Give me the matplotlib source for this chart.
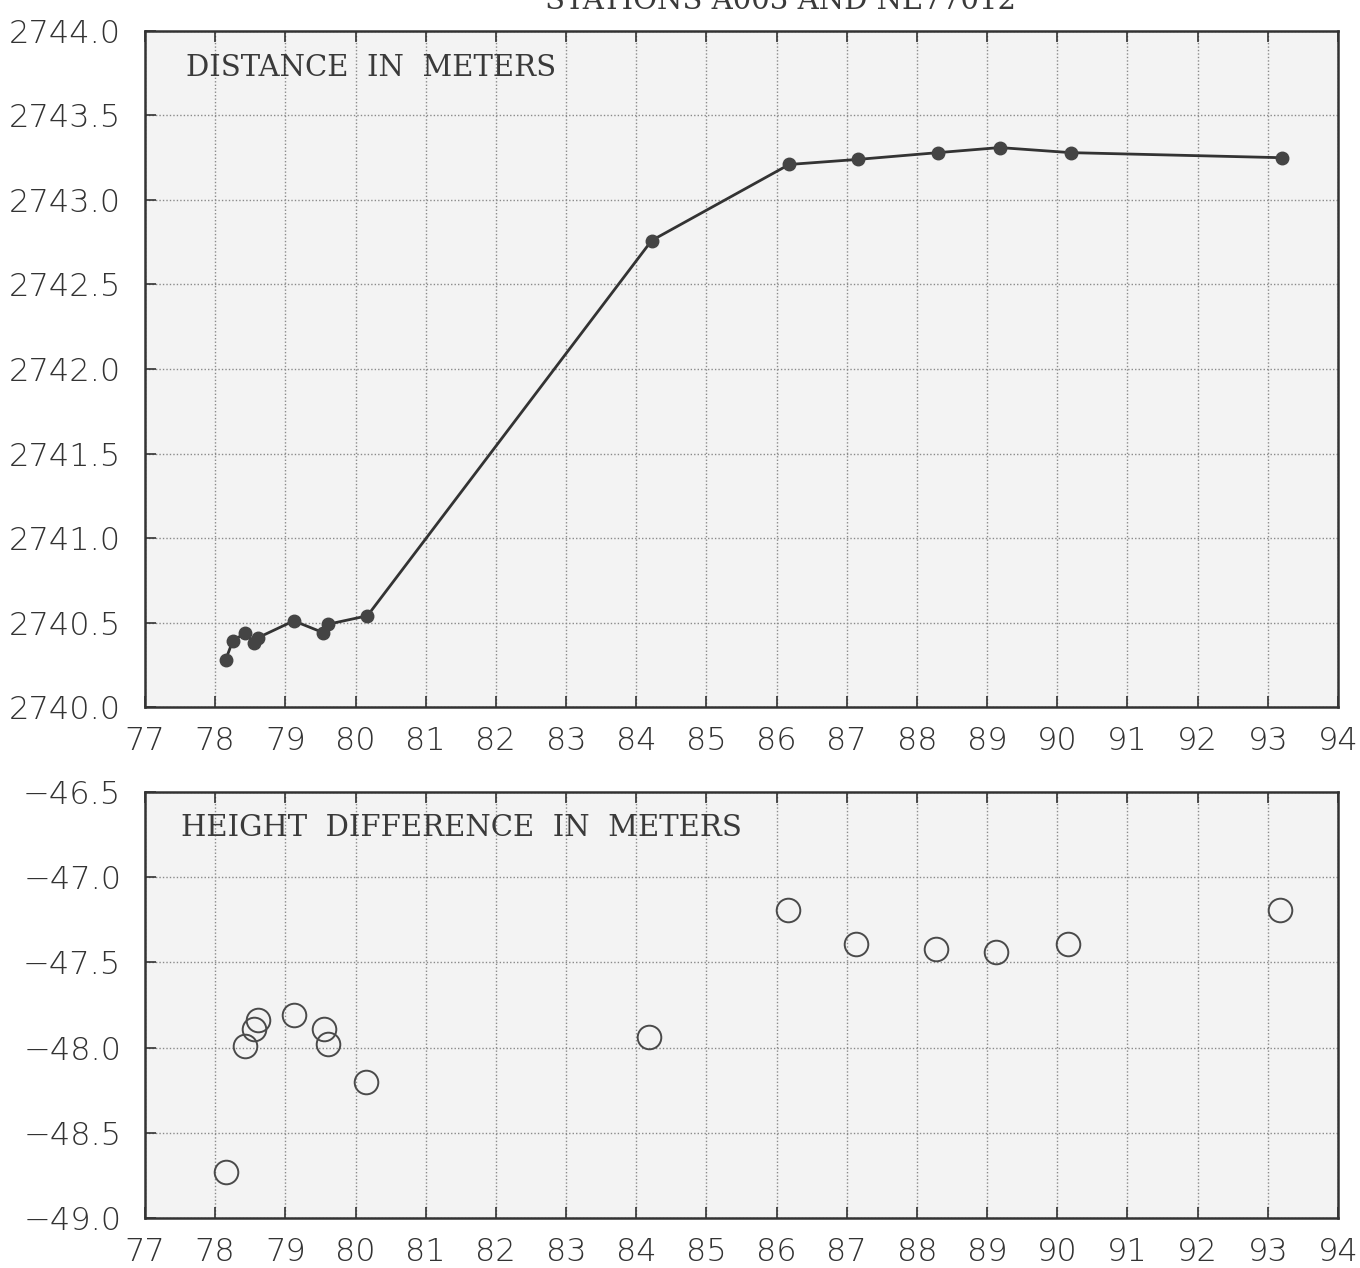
import matplotlib
matplotlib.use('Agg')
import matplotlib.pyplot as plt
from matplotlib import font_manager
import numpy as np

'''
Repeat measurements between stations A003 and NE77012:
slope distance (top) and height difference (bottom) per epoch
'''

# epochs (decimal year, two digits) and slope distance in meters
dist_years = [78.15, 78.25, 78.43, 78.55, 78.61, 79.12, 79.54, 79.61, 80.17,
              84.22, 86.18, 87.16, 88.30, 89.18, 90.19, 93.20]
distance = [2740.28, 2740.39, 2740.44, 2740.38, 2740.41, 2740.51, 2740.44,
            2740.49, 2740.54, 2742.76, 2743.21, 2743.24, 2743.28, 2743.31,
            2743.28, 2743.25]

# epochs and height difference in meters
hgt_years = [78.15, 78.43, 78.55, 78.61, 79.12, 79.55, 79.61, 80.15,
             84.18, 86.16, 87.13, 88.27, 89.12, 90.16, 93.17]
height_diff = [-48.73, -47.99, -47.89, -47.84, -47.81, -47.89, -47.98, -48.20,
               -47.94, -47.19, -47.39, -47.42, -47.44, -47.39, -47.19]

year_ticks = list(range(77, 95))
dist_ticks = [2740.0, 2740.5, 2741.0, 2741.5, 2742.0, 2742.5, 2743.0, 2743.5, 2744.0]
hgt_ticks = [-49.0, -48.5, -48.0, -47.5, -47.0, -46.5]

title = 'STATIONS A003 AND NE77012'
top_label = 'DISTANCE  IN  METERS'
bottom_label = 'HEIGHT  DIFFERENCE  IN  METERS'

# thin wide digits: DejaVu Sans ExtraLight if it is there, else a lighter grey
has_light = any(f.name == 'DejaVu Sans' and f.weight in (200, 'light', 'extra light', 'ultralight', 300)
                for f in font_manager.fontManager.ttflist)
tick_font = dict(family=['DejaVu Sans'], size=23,
                 weight='light' if has_light else 'normal',
                 color='#333333' if has_light else '#555555')
label_font = dict(family=['DejaVu Serif'], size=21, color='#3a3a3a')
ink = '#333333'

fig = plt.figure(figsize=(13.6, 12.68), dpi=100)
fig.patch.set_facecolor('white')

ax1 = fig.add_axes([0.1066, 0.4424, 0.8772, 0.5332])
ax2 = fig.add_axes([0.1066, 0.0394, 0.8772, 0.3360])


def style_axes(ax, yticks, fmt):
    ax.set_facecolor('#f3f3f3')
    ax.set_xlim(77, 94)
    ax.set_ylim(yticks[0], yticks[-1])
    ax.set_xticks(year_ticks)
    ax.set_yticks(yticks)
    ax.set_xticklabels([str(y) for y in year_ticks], **tick_font)
    ax.set_yticklabels([fmt(v) for v in yticks], **tick_font)
    ax.grid(True, color='#8a8a8a', linestyle=(0, (1, 1.5)), linewidth=1.0)
    ax.tick_params(axis='both', direction='in', length=8, width=1.2,
                   color=ink, top=True)
    ax.tick_params(axis='x', pad=13.5)
    ax.tick_params(axis='y', pad=17)
    for s in ax.spines.values():
        s.set_color(ink)
        s.set_linewidth(1.8)
    ax.set_axisbelow(True)


style_axes(ax1, dist_ticks, lambda v: f'{v:.1f}')
style_axes(ax2, hgt_ticks, lambda v: f'{v:.1f}'.replace('-', '\u2212'))

ax1.plot(dist_years, distance, color=ink, linewidth=2.0,
         marker='o', markersize=9, markerfacecolor='#444444',
         markeredgecolor='#444444', zorder=3)
ax1.text(0.034, 0.945, top_label, transform=ax1.transAxes, va='center', **label_font)

ax2.plot(hgt_years, height_diff, linestyle='none', marker='o', markersize=17,
         markerfacecolor='none', markeredgecolor='#4a4a4a', markeredgewidth=1.4,
         zorder=3)
ax2.text(0.03, 0.915, bottom_label, transform=ax2.transAxes, va='center', **label_font)

# title sits at the very top edge of the sheet
fig.text(0.574, 1 - 9 / 1268, title, ha='center', va='baseline',
         family='DejaVu Serif', size=21, color='#3a3a3a')

plt.savefig('out.png', dpi=100)
